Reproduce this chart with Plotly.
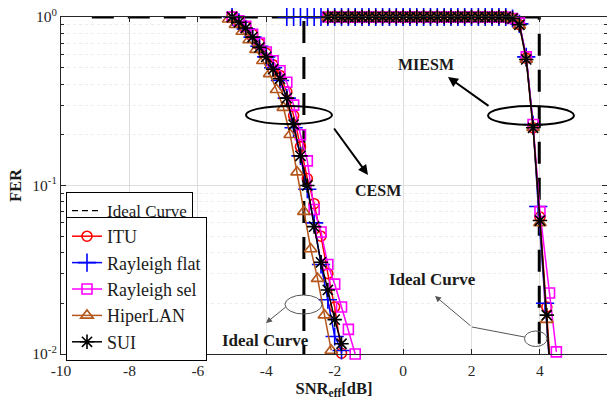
import numpy as np
import plotly.graph_objects as go

# ---------------- data ----------------
# CESM curves
itu_cesm_x = [-5.0, -4.8, -4.6, -4.4, -4.2, -4.0, -3.8, -3.6, -3.4, -3.2, -3.0, -2.8, -2.6, -2.4, -2.2, -2.0, -1.8]
itu_cesm_y = [1.0, 0.95, 0.88, 0.79, 0.70, 0.61, 0.52, 0.45, 0.36, 0.26, 0.17, 0.11, 0.078, 0.05, 0.03, 0.019, 0.0101]

rflat_cesm_x = [-5.0, -4.8, -4.6, -4.4, -4.2, -4.0, -3.8, -3.6, -3.4, -3.2, -3.0, -2.8, -2.6, -2.4, -2.2, -2.0, -1.8]
rflat_cesm_y = [1.0, 0.93, 0.85, 0.76, 0.67, 0.58, 0.50, 0.42, 0.33, 0.22, 0.15, 0.095, 0.06, 0.034, 0.021, 0.0127, 0.0105]

rsel_cesm_x = [-5.0, -4.8, -4.6, -4.4, -4.2, -4.0, -3.8, -3.6, -3.4, -3.2, -3.0, -2.8, -2.6, -2.4, -2.2, -2.0, -1.8, -1.6, -1.4]
rsel_cesm_y = [1.0, 0.95, 0.88, 0.79, 0.70, 0.62, 0.55, 0.48, 0.41, 0.30, 0.20, 0.14, 0.072, 0.053, 0.034, 0.026, 0.019, 0.014, 0.0100]

hiper_cesm_x = [-5.1, -4.9, -4.7, -4.5, -4.3, -4.1, -3.9, -3.7, -3.5, -3.3, -3.1, -2.9, -2.7, -2.5, -2.3, -2.1]
hiper_cesm_y = [0.97, 0.90, 0.82, 0.73, 0.64, 0.55, 0.46, 0.37, 0.29, 0.20, 0.12, 0.07, 0.042, 0.028, 0.017, 0.0105]

sui_cesm_x = [-5.0, -4.8, -4.6, -4.4, -4.2, -4.0, -3.8, -3.6, -3.4, -3.2, -3.0, -2.8, -2.6, -2.4, -2.2, -2.0, -1.8]
sui_cesm_y = [1.0, 0.93, 0.86, 0.76, 0.66, 0.58, 0.49, 0.43, 0.33, 0.23, 0.15, 0.10, 0.057, 0.035, 0.024, 0.016, 0.0115]

# MIESM curves
miesm_x = [-2.2, -2.0, -1.8, -1.6, -1.4, -1.2, -1.0, -0.8, -0.6, -0.4, -0.2, 0.0, 0.2, 0.4, 0.6, 0.8, 1.0,
           1.2, 1.4, 1.6, 1.8, 2.0, 2.2, 2.4, 2.6, 2.8, 3.0, 3.2, 3.4, 3.6, 3.8, 4.0, 4.2, 4.4]
itu_miesm_y = [1.0, 1.0, 1.0, 1.0, 1.0, 1.0, 1.0, 1.0, 1.0, 1.0, 1.0, 1.0, 1.0, 1.0, 1.0, 1.0, 1.0,
               1.0, 1.0, 1.0, 1.0, 1.0, 1.0, 1.0, 1.0, 1.0, 1.0, 0.98, 0.90, 0.57, 0.22, 0.065, 0.019, 0.0045]
hiper_miesm_y = [1.0, 1.0, 1.0, 1.0, 1.0, 1.0, 1.0, 1.0, 1.0, 1.0, 1.0, 1.0, 1.0, 1.0, 1.0, 1.0, 1.0,
                 1.0, 1.0, 1.0, 1.0, 1.0, 1.0, 1.0, 1.0, 1.0, 1.0, 0.98, 0.89, 0.56, 0.22, 0.06, 0.016, 0.004]
sui_miesm_y = [1.0, 1.0, 1.0, 1.0, 1.0, 1.0, 1.0, 1.0, 1.0, 1.0, 1.0, 1.0, 1.0, 1.0, 1.0, 1.0, 1.0,
               1.0, 1.0, 1.0, 1.0, 1.0, 1.0, 1.0, 1.0, 1.0, 1.0, 0.98, 0.90, 0.56, 0.22, 0.062, 0.017, 0.004]

rflat_miesm_x = [-3.4, -3.2, -3.0, -2.8, -2.6, -2.4, -2.2, -2.0, -1.8, -1.6, -1.4, -1.2, -1.0, -0.8, -0.6, -0.4,
                 -0.2, 0.0, 0.2, 0.4, 0.6, 0.8, 1.0, 1.2, 1.4, 1.6, 1.8, 2.0, 2.2, 2.4, 2.6, 2.8, 3.0, 3.2,
                 3.4, 3.6, 3.8, 3.95, 4.15, 4.4]
rflat_miesm_y = [1.0, 1.0, 1.0, 1.0, 1.0, 1.0, 1.0, 1.0, 1.0, 1.0, 1.0, 1.0, 1.0, 1.0, 1.0, 1.0,
                 1.0, 1.0, 1.0, 1.0, 1.0, 1.0, 1.0, 1.0, 1.0, 1.0, 1.0, 1.0, 1.0, 1.0, 1.0, 1.0, 1.0, 0.98,
                 0.91, 0.58, 0.23, 0.075, 0.02, 0.004]

rsel_miesm_x = [-2.2, -2.0, -1.8, -1.6, -1.4, -1.2, -1.0, -0.8, -0.6, -0.4, -0.2, 0.0, 0.2, 0.4, 0.6, 0.8, 1.0,
                1.2, 1.4, 1.6, 1.8, 2.0, 2.2, 2.4, 2.6, 2.8, 3.0, 3.2, 3.4, 3.6, 3.8, 4.0, 4.28, 4.48]
rsel_miesm_y = [1.0, 1.0, 1.0, 1.0, 1.0, 1.0, 1.0, 1.0, 1.0, 1.0, 1.0, 1.0, 1.0, 1.0, 1.0, 1.0, 1.0,
                1.0, 1.0, 1.0, 1.0, 1.0, 1.0, 1.0, 1.0, 1.0, 1.0, 0.98, 0.92, 0.58, 0.23, 0.07, 0.023, 0.0103]

# Ideal curves
ideal_cesm_x = [-9.1, -2.9, -2.9]
ideal_cesm_y = [1.0, 1.0, 0.01]
ideal_miesm_x = [-2.9, 3.98, 3.98]
ideal_miesm_y = [1.0, 1.0, 0.01]

series_names = ["ITU", "Rayleigh flat", "Rayleigh sel", "HiperLAN", "SUI"]

x_ticks = [-10, -8, -6, -4, -2, 0, 2, 4, 6]
x_ticktext = ["-10", "-8", "-6", "-4", "-2", "0", "2", "4", "6"]
y_ticks = [0.01, 0.1, 1]
y_ticktext = ["10<sup>-2</sup>", "10<sup>-1</sup>", "10<sup>0</sup>"]
y_minor = [0.02, 0.03, 0.04, 0.05, 0.06, 0.07, 0.08, 0.09, 0.2, 0.3, 0.4, 0.5, 0.6, 0.7, 0.8, 0.9]

# ---------------- styling ----------------
FONT = "Liberation Serif"
colors = ["#ff0000", "#0000ff", "#ff00ff", "#b5561c", "#000000"]
symbols = ["circle-open", "cross-thin-open", "square-open", "triangle-up-open", "asterisk-open"]
sizes = [10, 13, 10, 11, 12]

cesm = [(itu_cesm_x, itu_cesm_y), (rflat_cesm_x, rflat_cesm_y), (rsel_cesm_x, rsel_cesm_y),
        (hiper_cesm_x, hiper_cesm_y), (sui_cesm_x, sui_cesm_y)]
miesm = [(miesm_x, itu_miesm_y), (rflat_miesm_x, rflat_miesm_y), (rsel_miesm_x, rsel_miesm_y),
         (miesm_x, hiper_miesm_y), (miesm_x, sui_miesm_y)]

fig = go.Figure()

# legend-only entry for ideal curve
fig.add_trace(go.Scatter(x=[None], y=[None], mode="lines", name="Ideal Curve",
                         line=dict(color="black", width=1.2, dash="6px,4px"), legend="legend"))
for ix, iy in [(ideal_cesm_x, ideal_cesm_y), (ideal_miesm_x, ideal_miesm_y)]:
    fig.add_trace(go.Scatter(x=ix, y=iy, mode="lines", showlegend=False, hoverinfo="skip",
                             line=dict(color="black", width=3, dash="22px,14px")))

for i, name in enumerate(series_names):
    c = colors[i]
    mk = dict(symbol=symbols[i], size=sizes[i], color=c, line=dict(color=c, width=1.6))
    cx, cy = cesm[i]
    fig.add_trace(go.Scatter(x=cx, y=cy, mode="lines+markers", name=name, legend="legend2",
                             line=dict(color=c, width=1.5), marker=mk, cliponaxis=False))

for i, name in enumerate(series_names):
    c = colors[i]
    mk = dict(symbol=symbols[i], size=sizes[i], color=c, line=dict(color=c, width=1.6))
    mx, my = miesm[i]
    mx = np.array(mx)
    my = np.array(my)
    fig.add_trace(go.Scatter(x=mx, y=my, mode="lines", showlegend=False,
                             line=dict(color=c, width=1.5)))
    keep = my >= 0.0095
    fig.add_trace(go.Scatter(x=mx[keep], y=my[keep], mode="markers", showlegend=False,
                             marker=mk, cliponaxis=False))

# ---------------- annotations ----------------
L, R, T, B = 61, 0, 17, 55
W, H = 607, 409
PW, PH = W - L - R, H - T - B


def px(x):
    return (x - L) / PW


def py(y):
    return (H - B - y) / PH


shapes = []
for (x0, x1, y0, y1, col, w) in [(246, 332, 106, 124, "black", 2),
                                 (488, 574, 106, 125, "black", 2),
                                 (285, 322, 295, 314, "#555555", 1),
                                 (524.5, 547, 331, 346.5, "#555555", 1)]:
    shapes.append(dict(type="circle", xref="paper", yref="paper",
                       x0=px(x0), x1=px(x1), y0=py(y1), y1=py(y0),
                       line=dict(color=col, width=w)))
shapes.append(dict(type="line", xref="paper", yref="paper",
                   x0=px(524.5), y0=py(337), x1=px(472), y1=py(327),
                   line=dict(color="#555555", width=1)))

annotations = []
for (hx, hy, tx, ty, col, w, hs) in [(368, 175, 333, 127, "black", 2, 1.0),
                                     (448, 77, 490, 107, "black", 2, 1.0),
                                     (266, 323, 287, 306, "#555555", 1, 1.2),
                                     (435, 296, 472, 327, "#555555", 1, 1.2)]:
    annotations.append(dict(x=px(hx), y=py(hy), xref="paper", yref="paper", text="",
                            showarrow=True, ax=tx - hx, ay=ty - hy, axref="pixel", ayref="pixel",
                            arrowhead=2, arrowsize=hs, arrowwidth=w, arrowcolor=col))

for (tx, ty, txt, fs) in [(425.5, 64.5, "MIESM", 16), (378, 190, "CESM", 16),
                          (432.5, 279, "Ideal Curve", 17), (265.5, 340, "Ideal Curve", 17)]:
    annotations.append(dict(x=px(tx), y=py(ty), xref="paper", yref="paper", text="<b>%s</b>" % txt,
                            showarrow=False, xanchor="center", yanchor="middle",
                            font=dict(family=FONT, size=fs, color="#1a1a1a")))

axis_common = dict(showline=True, linecolor="#262626", linewidth=1, mirror="ticks",
                   ticks="inside", tickcolor="#262626", ticklen=5,
                   showgrid=True, gridcolor="#dedede", gridwidth=1, zeroline=False,
                   tickfont=dict(family=FONT, size=15.5, color="#262626"))

fig.update_layout(
    width=W, height=H,
    margin=dict(l=L, r=R, t=T, b=B, pad=0),
    paper_bgcolor="white", plot_bgcolor="white",
    font=dict(family=FONT, color="#262626"),
    xaxis=dict(range=[-10, 5.96], tickmode="array", tickvals=x_ticks, ticktext=x_ticktext,
               ticklabelstandoff=2,
               title=dict(text="<b>SNR<sub>eff</sub>[dB]</b>", font=dict(family=FONT, size=16.5, color="#1a1a1a"),
                          standoff=4),
               **axis_common),
    yaxis=dict(type="log", range=[-2, 0], tickmode="array", tickvals=y_ticks, ticktext=y_ticktext,
               minor=dict(tickmode="array", tickvals=y_minor, ticks="inside", ticklen=3,
                          tickcolor="#262626", showgrid=True, gridcolor="#ececec", griddash="dot"),
               title=dict(text="<b>FER</b>", font=dict(family=FONT, size=16.5, color="#1a1a1a"),
                          standoff=6),
               **axis_common),
    legend=dict(x=px(66), y=py(192), xanchor="left", yanchor="top",
                bgcolor="white", bordercolor="black", borderwidth=1,
                font=dict(family=FONT, size=17, color="#1a1a1a"), tracegroupgap=0,
                itemwidth=30),
    legend2=dict(x=px(66), y=py(217), xanchor="left", yanchor="top",
                 bgcolor="white", bordercolor="black", borderwidth=1,
                 font=dict(family=FONT, size=18, color="#1a1a1a"), tracegroupgap=0,
                 itemwidth=30),
    shapes=shapes,
    annotations=annotations,
    showlegend=True,
)

fig.write_html("out.html")
